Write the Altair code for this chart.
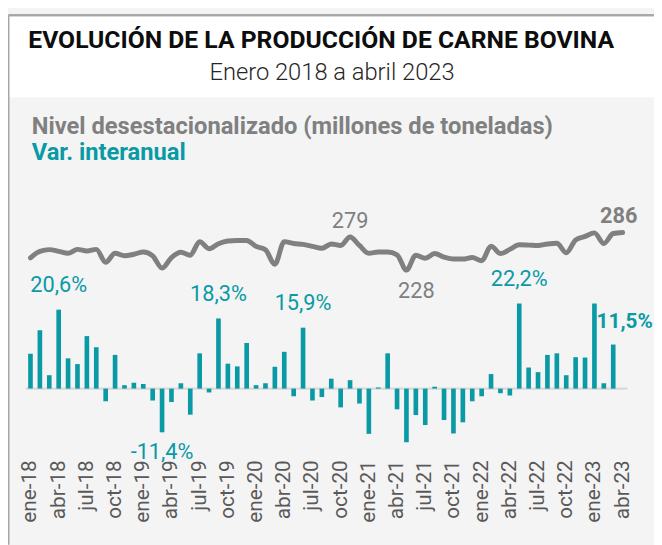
import altair as alt
import pandas as pd

meses_abrev = ["ene", "feb", "mar", "abr", "may", "jun", "jul", "ago", "sep", "oct", "nov", "dic"]
anios = ["18", "19", "20", "21", "22", "23"]
meses = [f"{m}-{a}" for a in anios for m in meses_abrev][:64]

# Variación interanual (%)
var_interanual = [9.1, 15.2, 3.5, 20.6, 7.9, 6.4, 13.7, 10.8, -3.3, 8.8, 0.9, 1.5,
                  1.2, -3.1, -11.4, -3.5, 1.4, -6.8, 9.2, -1.0, 18.3, 6.5, 5.8, 11.9,
                  0.9, 1.4, 5.7, 9.6, -2.0, 15.9, -3.1, -2.2, 2.6, -4.9, 2.2, -3.9,
                  -11.8, 0.3, 9.2, -5.4, -14.0, -6.9, -9.5, 0.5, -8.2, -11.7, -8.8, -3.3,
                  -2.0, 3.8, -1.2, -1.8, 22.2, 5.5, 4.3, 8.8, 9.2, 3.5, 8.2, 8.1,
                  22.2, 1.4, 11.5, None]

# Nivel desestacionalizado
nivel = [247, 257, 259.6, 257, 254, 260, 257.5, 260, 240, 254, 250, 252.4,
         256, 250, 231, 247.4, 255.5, 251, 272, 261, 268.7, 273, 273.8, 273.8,
         264.6, 259.3, 237, 272, 269, 267.7, 264.6, 261.6, 268.4, 266, 279, 266,
         254, 256, 256, 251.6, 228, 251, 246.3, 253.5, 248, 245, 245, 247.4,
         242.5, 265, 253.5, 260, 267, 266.6, 266, 268.4, 269.5, 254.7, 274.5, 280,
         285.5, 269, 284.5, 286]

# Etiquetas
etq_var_mes = ["abr-18", "mar-19", "sep-19", "jun-20", "may-22"]
etq_var_txt = ["20,6%", "-11,4%", "18,3%", "15,9%", "22,2%"]
etq_var_ult_mes = ["mar-23"]
etq_var_ult_txt = ["11,5%"]
etq_niv_mes = ["nov-20", "may-21"]
etq_niv_txt = ["279", "228"]
etq_niv_ult_mes = ["abr-23"]
etq_niv_ult_txt = ["286"]

TEAL = "#0a9aa6"
GRIS = "#808080"
FONT = "Roboto"

df = pd.DataFrame({"mes": meses, "var": var_interanual, "nivel": nivel})
val = dict(zip(meses, var_interanual))
niv = dict(zip(meses, nivel))

x_scale = alt.Scale(domain=meses, range=[18, 627], paddingInner=0.5, paddingOuter=0.25)
x_enc = alt.X("mes:O", sort=meses, scale=x_scale,
              axis=alt.Axis(values=meses[::3], labelAngle=-90, domain=False, ticks=False,
                            title=None, labelFont=FONT, labelFontSize=21,
                            labelColor="#595959", labelPadding=4))
ybar_scale = alt.Scale(domain=[-20, 25], range=[459.6, 285], nice=False, zero=False)
yline_scale = alt.Scale(domain=[200, 300], range=[280.33, 214.83], nice=False, zero=False)

bg = alt.Chart(pd.DataFrame({"a": [0]})).mark_rect(color="white").encode(
    x=alt.value(0), x2=alt.value(654), y=alt.value(4), y2=alt.value(87))
border = alt.Chart(pd.DataFrame({"a": [0, 1]})).mark_rule(color="#a6a6a6", strokeWidth=2).encode(
    x=alt.value(0.5), x2=alt.value(654), y=alt.value(4), y2=alt.value(4))
border2 = alt.Chart(pd.DataFrame({"a": [0]})).mark_rule(color="#a6a6a6", strokeWidth=2).encode(
    x=alt.value(0.5), y=alt.value(4), y2=alt.value(540))

def static_text(txt, x, y, size, color, weight="normal", align="left"):
    return alt.Chart(pd.DataFrame({"t": [txt]})).mark_text(
        font=FONT, fontSize=size, color=color, fontWeight=weight, align=align, baseline="alphabetic"
    ).encode(x=alt.value(x), y=alt.value(y), text="t:N")

title = static_text("EVOLUCIÓN DE LA PRODUCCIÓN DE CARNE BOVINA", 317, 37, 25, "#0d0d0d", "bold", "center")
subtitle = static_text("Enero 2018 a abril 2023", 328, 70, 24, "#262626", 300, "center")
leg1 = static_text("Nivel desestacionalizado (millones de toneladas)", 24, 124, 24, GRIS, "bold")
leg2 = static_text("Var. interanual", 24, 151, 24, TEAL, "bold")

bars = alt.Chart(df).mark_bar(color=TEAL, size=4.7).encode(
    x=x_enc, y=alt.Y("var:Q", scale=ybar_scale, axis=None))
zero = alt.Chart(pd.DataFrame({"z": [0]})).mark_rule(color="#d9d9d9", strokeWidth=2.5).encode(
    y=alt.Y("z:Q", scale=ybar_scale, axis=None), x=alt.value(18), x2=alt.value(627))

lab_df = pd.DataFrame({"mes": etq_var_mes, "t": etq_var_txt, "v": [val[m] for m in etq_var_mes]})
lab_pos = alt.Chart(lab_df).transform_filter("datum.v > 0").mark_text(
    font=FONT, fontSize=22, color=TEAL, baseline="alphabetic", dy=-18).encode(
    x=x_enc, y=alt.Y("v:Q", scale=ybar_scale, axis=None), text="t:N")
lab_neg = alt.Chart(lab_df).transform_filter("datum.v < 0").mark_text(
    font=FONT, fontSize=22, color=TEAL, baseline="top", dy=10).encode(
    x=x_enc, y=alt.Y("v:Q", scale=ybar_scale, axis=None), text="t:N")
ult_df = pd.DataFrame({"mes": etq_var_ult_mes, "t": etq_var_ult_txt, "v": [val[m] for m in etq_var_ult_mes]})
lab_ult = alt.Chart(ult_df).mark_text(
    font=FONT, fontSize=21, color=TEAL, fontWeight="bold", baseline="alphabetic", align="right",
    dx=40, dy=-17).encode(
    x=x_enc, y=alt.Y("v:Q", scale=ybar_scale, axis=None), text="t:N")

line = alt.Chart(df).mark_line(color=GRIS, strokeWidth=5, interpolate="monotone", strokeCap="round").encode(
    x=x_enc, y=alt.Y("nivel:Q", scale=yline_scale, axis=None))
nl_df = pd.DataFrame({"mes": etq_niv_mes, "t": etq_niv_txt, "v": [niv[m] for m in etq_niv_mes]})
lab_279 = alt.Chart(nl_df).transform_filter("datum.v > 260").mark_text(
    font=FONT, fontSize=22, color=GRIS, baseline="alphabetic", dy=-9).encode(
    x=x_enc, y=alt.Y("v:Q", scale=yline_scale, axis=None), text="t:N")
lab_228 = alt.Chart(nl_df).transform_filter("datum.v < 260").mark_text(
    font=FONT, fontSize=22, color=GRIS, baseline="top", dy=11, dx=10).encode(
    x=x_enc, y=alt.Y("v:Q", scale=yline_scale, axis=None), text="t:N")
nu_df = pd.DataFrame({"mes": etq_niv_ult_mes, "t": etq_niv_ult_txt, "v": [niv[m] for m in etq_niv_ult_mes]})
lab_286 = alt.Chart(nu_df).mark_text(
    font=FONT, fontSize=22, color=GRIS, fontWeight="bold", baseline="alphabetic", dx=-4, dy=-10).encode(
    x=x_enc, y=alt.Y("v:Q", scale=yline_scale, axis=None), text="t:N")

chart = alt.layer(
    bg, border, border2, title, subtitle, leg1, leg2,
    alt.layer(zero, bars, lab_pos, lab_neg, lab_ult),
    alt.layer(line, lab_279, lab_228, lab_286),
).resolve_scale(y="independent").properties(
    width=654, height=450,
    padding={"left": 0, "top": 0, "right": 0, "bottom": 87},
    autosize=alt.AutoSizeParams(type="none"),
    background="#f4f4f4",
).configure_view(stroke=None)

chart.save("out.html", embed_options={"renderer": "svg", "actions": False})
